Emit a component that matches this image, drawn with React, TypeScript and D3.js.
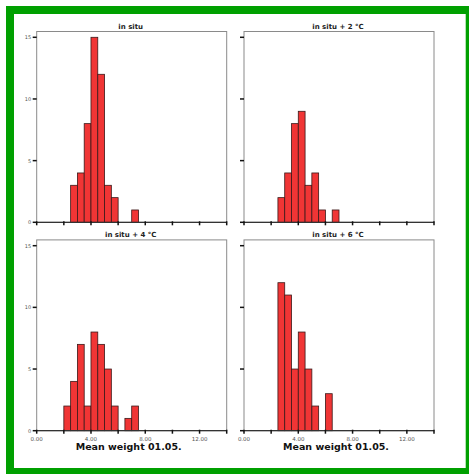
import React from "react";
import * as d3 from "d3";

const binStarts = [2.0, 2.5, 3.0, 3.5, 4.0, 4.5, 5.0, 5.5, 6.0, 6.5, 7.0];
const countsInSitu = [0, 3, 4, 8, 15, 12, 3, 2, 0, 0, 1];
const countsPlus2 = [0, 2, 4, 8, 9, 3, 4, 1, 0, 1, 0];
const countsPlus4 = [2, 4, 7, 2, 8, 7, 5, 2, 0, 1, 2];
const countsPlus6 = [0, 12, 11, 5, 8, 5, 2, 0, 3, 0, 0];
const panelTitles = ["in situ", "in situ + 2 °C", "in situ + 4 °C", "in situ + 6 °C"];
const xTicks = [0, 2, 4, 6, 8, 10, 12, 14];
const xTickLabels = [0, 4, 8, 12];
const yTicks = [0, 5, 10, 15];
const binWidth = 0.5;
const xAxisTitle = "Mean weight 01.05.";

const W = 469;
const H = 474;
const PW = 190;
const PH = 190.8;

const panels = [
  { counts: countsInSitu, x0: 36.7, yb: 222.3, left: true, bottom: false },
  { counts: countsPlus2, x0: 244, yb: 222.3, left: false, bottom: false },
  { counts: countsPlus4, x0: 36.7, yb: 430.7, left: true, bottom: true },
  { counts: countsPlus6, x0: 244, yb: 430.7, left: false, bottom: true },
];

const font = "DejaVu Sans, sans-serif";

function Panel({ p, title }: { p: (typeof panels)[0]; title: string }) {
  const x = d3.scaleLinear().domain([0, 14]).range([p.x0, p.x0 + PW]);
  const y = d3.scaleLinear().domain([0, 15.47]).range([p.yb, p.yb - PH]);
  return (
    <g>
      <rect x={p.x0} y={p.yb - PH} width={PW} height={PH} fill="white" stroke="#8a8a8a" strokeWidth={1} />
      {binStarts.map((b, i) =>
        p.counts[i] > 0 ? (
          <rect
            key={i}
            x={x(b)}
            y={y(p.counts[i])}
            width={x(b + binWidth) - x(b)}
            height={y(0) - y(p.counts[i])}
            fill="#f03535"
            stroke="#3a1a1a"
            strokeWidth={0.8}
          />
        ) : null
      )}
      <line x1={p.x0} x2={p.x0 + PW} y1={p.yb} y2={p.yb} stroke="#333" strokeWidth={1.2} />
      {xTicks.map((t) => (
        <line key={t} x1={x(t)} x2={x(t)} y1={p.yb - 1} y2={p.yb + 3} stroke="#111" strokeWidth={1.5} />
      ))}
      {yTicks.map((t) => (
        <line key={t} x1={p.x0 - 4} x2={p.x0} y1={y(t)} y2={y(t)} stroke="#111" strokeWidth={1.5} />
      ))}
      {p.left &&
        yTicks.map((t) => (
          <text key={t} x={p.x0 - 5.5} y={y(t) + 2} fontSize={5} fill="#555" textAnchor="end" fontFamily={font}>
            {t}
          </text>
        ))}
      {p.bottom &&
        xTickLabels.map((t) => (
          <text key={t} x={x(t)} y={p.yb + 10.5} fontSize={5.5} fill="#555" textAnchor="middle" fontFamily={font}>
            {t.toFixed(2)}
          </text>
        ))}
      {p.bottom && (
        <text x={p.x0 + PW / 2 - 3} y={p.yb + 19.5} fontSize={9.5} fontWeight="bold" fill="#111" textAnchor="middle" fontFamily={font}>
          {xAxisTitle}
        </text>
      )}
      <text x={p.x0 + PW / 2 - 1} y={p.yb - PH - 3} fontSize={7} fontWeight="bold" fill="#222" textAnchor="middle" fontFamily={font}>
        {title}
      </text>
    </g>
  );
}

export default function App() {
  return (
    <div style={{ position: "absolute", left: 0, top: 0 }}>
      <svg width={W} height={H} style={{ display: "block" }}>
        <rect x={0} y={0} width={W} height={H} fill="white" />
        <rect x={6} y={6} width={W - 6} height={H - 6} fill="#00a000" />
        <rect x={14} y={14} width={451.7} height={454} fill="white" />
        {panels.map((p, i) => (
          <Panel key={i} p={p} title={panelTitles[i]} />
        ))}
      </svg>
    </div>
  );
}
